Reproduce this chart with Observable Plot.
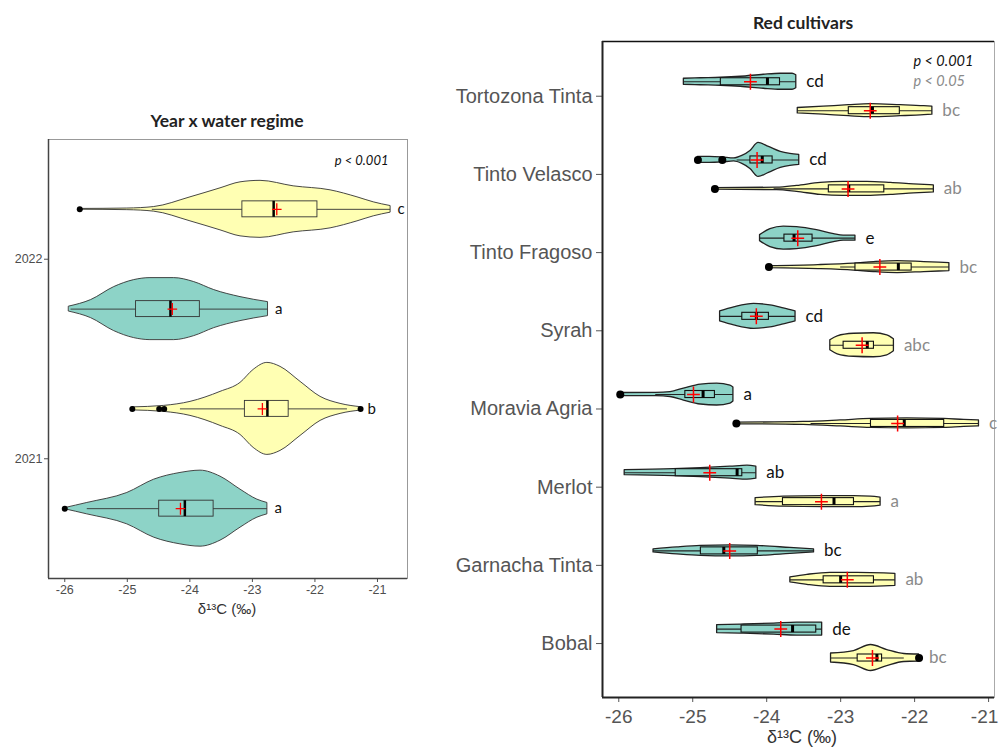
<!DOCTYPE html>
<html><head><meta charset="utf-8">
<script src="https://cdn.jsdelivr.net/npm/d3@7"></script>
<script src="https://cdn.jsdelivr.net/npm/@observablehq/plot@0.6"></script>
<style>
body{margin:0;background:#fff;width:1000px;height:752px;overflow:hidden;position:relative;font-family:"Liberation Sans",Arial,sans-serif}
#left{position:absolute;left:0;top:0}
#right{position:absolute;left:430px;top:0}
.title{position:absolute;font-family:Lato,"Open Sans",sans-serif;font-weight:700;font-size:17.5px;color:#222;transform:translate(-50%,-50%);white-space:nowrap}
.axt{position:absolute;font-family:"Liberation Sans",Arial,sans-serif;color:#333;transform:translate(-50%,-50%);white-space:nowrap}
</style></head><body>
<div id="left"></div><div id="right"></div>
<div class="title" style="left:227px;top:120px">Year x water regime</div>
<div class="title" style="left:803px;top:22px">Red cultivars</div>
<div class="axt" style="left:227px;top:608px;font-size:15px">δ¹³C (‰)</div>
<div class="axt" style="left:802px;top:737px;font-size:18px">δ¹³C (‰)</div>
<script>
// ---------------- LEFT PANEL DATA (Year x water regime) ----------------
const yearOrder = ["2022", "2021"];
const leftYears = ["2022", "2022", "2021", "2021"];
const leftRegime = ["A", "B", "A", "B"];
const leftProfileX = [
  [-25.76, -25.0, -24.57, -23.99, -23.51, -23.19, -22.87, -22.34, -21.75, -21.32, -21.06, -20.79],
  [-25.93, -25.58, -25.21, -24.89, -24.63, -24.25, -23.93, -23.61, -23.19, -22.75],
  [-24.92, -24.41, -23.99, -23.51, -23.19, -22.98, -22.76, -22.55, -22.23, -21.91, -21.59, -21.27],
  [-26.0, -25.64, -25.0, -24.57, -24.15, -23.83, -23.51, -23.19, -22.92, -22.76]
];
const leftProfileW = [
  [0.4, 0.8, 2.3, 12, 21, 27, 28.5, 23, 19, 12, 7, 3.3],
  [2.5, 9, 22, 29, 31, 31, 27, 19, 12, 7],
  [1.5, 3, 7, 17, 26, 39, 46, 42, 27, 12, 5, 1.7],
  [0.5, 5.7, 15.7, 29, 35.7, 38, 32, 19, 9, 5.7]
];
const leftQ1 = [-23.16, -24.86, -23.12, -24.49];
const leftMedian = [-22.66, -24.31, -22.76, -24.08];
const leftQ3 = [-21.96, -23.84, -22.42, -23.62];
const leftWhiskerLow = [-24.6, -25.9, -24.15, -25.64];
const leftWhiskerHigh = [-20.79, -22.75, -21.48, -22.76];
const leftMean = [-22.61, -24.28, -22.84, -24.15];
const leftOutliers = [[-25.76], [], [-24.92, -24.49, -24.41, -21.27], [-26.0]];
const leftLetters = ["c", "a", "b", "a"];
const leftXTicks = [-26, -25, -24, -23, -22, -21];

// ---------------- RIGHT PANEL DATA (Red cultivars) ----------------
const cultivars = ["Tortozona Tinta", "Tinto Velasco", "Tinto Fragoso", "Syrah", "Moravia Agria", "Merlot", "Garnacha Tinta", "Bobal"];
const rightCultivar = cultivars.flatMap(c => [c, c]);
const rightRegime = cultivars.flatMap(() => ["B", "A"]);
const rightProfileX = [
  [-25.12, -24.89, -24.62, -24.35, -24.04, -23.81, -23.65, -23.60],
  [-23.58, -23.23, -22.89, -22.59, -22.19, -21.87, -21.76],
  [-24.93, -24.77, -24.60, -24.44, -24.33, -24.22, -24.11, -23.97, -23.81, -23.68, -23.56],
  [-24.70, -23.86, -23.59, -23.27, -22.96, -22.64, -22.32, -22.01, -21.74],
  [-24.09, -23.95, -23.77, -23.59, -23.32, -23.09, -22.96, -22.80],
  [-23.97, -23.30, -22.82, -22.55, -22.23, -21.87, -21.53],
  [-24.63, -24.44, -24.17, -23.95, -23.77, -23.61],
  [-23.14, -23.04, -22.82, -22.55, -22.37, -22.28],
  [-25.98, -25.50, -25.30, -25.12, -24.89, -24.67, -24.49, -24.45],
  [-24.41, -23.50, -23.00, -22.59, -22.10, -21.60, -21.33, -21.13],
  [-25.92, -25.26, -24.89, -24.49, -24.26, -24.14],
  [-24.15, -23.77, -23.23, -22.82, -22.59, -22.46],
  [-25.53, -25.21, -24.89, -24.49, -24.13, -23.68, -23.36],
  [-23.68, -23.45, -23.14, -22.77, -22.41, -22.26],
  [-24.67, -24.35, -23.90, -23.59, -23.25],
  [-23.13, -22.82, -22.59, -22.37, -22.14, -21.94]
];
const rightProfileW = [
  [3, 3.5, 4, 5, 7, 8, 8, 6.5],
  [2.7, 4, 5.5, 6.5, 5.5, 4.5, 4],
  [3, 3, 2.5, 1.5, 4, 9, 17, 13, 8, 6, 5],
  [0.8, 1.2, 3, 6, 7, 7, 6, 4.5, 3.5],
  [3, 9, 11.5, 11, 8, 4, 2.5, 2.5],
  [1, 2, 3.5, 5, 6, 5, 4],
  [5, 9, 12.5, 11, 8, 5],
  [5, 9, 11.5, 12, 10, 6],
  [1.5, 1.7, 2.5, 6, 10, 11, 9, 7],
  [0.8, 1.5, 3, 4.5, 5, 4.5, 3.5, 3],
  [2.5, 3.5, 4.5, 6, 7, 6],
  [3.5, 5, 5.5, 5.5, 5, 4],
  [1.5, 3.5, 5, 5.5, 5, 3, 1.5],
  [2.5, 5, 7, 7, 6.5, 6],
  [4, 4.5, 5.5, 6.5, 6.5],
  [4.5, 7, 13, 8, 4, 3.5]
];
const rightQ1 = [-24.62, -22.89, -24.22, -23.16, -23.76, -22.80, -24.33, -22.96, -25.10, -22.59, -25.23, -23.78, -24.89, -23.23, -24.34, -22.77];
const rightMedian = [-23.99, -22.57, -24.06, -22.89, -23.63, -22.22, -24.14, -22.64, -24.86, -22.14, -24.40, -23.09, -24.58, -23.00, -23.65, -22.51];
const rightQ3 = [-23.82, -22.20, -23.92, -22.41, -23.38, -22.04, -23.97, -22.55, -24.70, -21.60, -24.33, -22.82, -24.12, -22.55, -23.33, -22.44];
const rightWhiskerLow = [-25.12, -23.58, -24.40, -23.90, -24.09, -23.00, -24.63, -23.14, -25.50, -23.40, -25.92, -24.15, -25.53, -23.68, -24.67, -23.13];
const rightWhiskerHigh = [-23.60, -21.76, -23.56, -21.74, -22.80, -21.53, -23.61, -22.28, -24.45, -21.13, -24.14, -22.46, -23.36, -22.26, -23.25, -22.14];
const rightMean = [-24.22, -22.60, -24.13, -22.90, -23.58, -22.47, -24.14, -22.71, -24.99, -22.23, -24.77, -23.26, -24.50, -22.91, -23.81, -22.57];
const rightOutliers = [[], [], [-24.93, -24.60], [-24.70], [], [-23.97], [], [], [-25.98], [-24.41], [], [], [], [], [], [-21.94]];
const rightLetters = ["cd", "bc", "cd", "ab", "e", "bc", "cd", "abc", "a", "c", "ab", "a", "bc", "ab", "de", "bc"];
const rightXTicks = [-26, -25, -24, -23, -22, -21];

// ---------------- helpers ----------------
const regimeFill = {A: "#FFFFB3", B: "#8DD3C7"};
const plusSymbol = {
  draw(ctx, size) {
    const r = Math.sqrt(size / Math.PI);
    ctx.moveTo(-r * 0.8, 0); ctx.lineTo(r * 0.8, 0);
    ctx.moveTo(0, -r); ctx.lineTo(0, r);
  }
};

function build(order, cats, regs, offsets, profX, profW, dens, q1, med, q3, wl, wh, mean, outs, letters, boxHalf) {
  const n = order.length;
  const violins = [], boxes = [], outRows = [];
  cats.forEach((cat, i) => {
    const c = (n - order.indexOf(cat)) + offsets[regs[i]];
    const fill = regimeFill[regs[i]];
    profX[i].forEach((x, j) => violins.push({id: i, x, y1: c - profW[i][j] * dens, y2: c + profW[i][j] * dens, fill}));
    boxes.push({c, fill, q1: q1[i], q3: q3[i], med: med[i], mean: mean[i], wl: wl[i], wh: wh[i],
      b1: c - boxHalf, b2: c + boxHalf, xmax: d3.max(profX[i]), letter: letters[i], regime: regs[i]});
    outs[i].forEach(x => outRows.push({x, y: c}));
  });
  return {violins, boxes, outRows};
}

// ---------------- LEFT PLOT ----------------
const L = build(yearOrder, leftYears, leftRegime, {A: 0.25, B: -0.25}, leftProfileX, leftProfileW, 1 / 199.5,
  leftQ1, leftMedian, leftQ3, leftWhiskerLow, leftWhiskerHigh, leftMean, leftOutliers, leftLetters, 0.04);
const leftXDomain = [-26.26, -20.52];
const leftYDomain = [0.4, 2.6];

const leftPlot = Plot.plot({
  width: 430, height: 640,
  marginLeft: 48, marginRight: 23, marginTop: 139, marginBottom: 62,
  style: {fontFamily: "'Liberation Sans', Arial, sans-serif", fontSize: "12.5px", color: "#4d4d4d", background: "transparent"},
  color: {type: "identity"},
  x: {domain: leftXDomain, ticks: leftXTicks, tickFormat: d => String(d), tickSize: 4, tickPadding: 3, label: null},
  y: {domain: leftYDomain, ticks: yearOrder.map((_, i) => yearOrder.length - i), tickFormat: d => yearOrder[yearOrder.length - d], tickSize: 4, tickPadding: 2, label: null},
  marks: [
    Plot.frame({stroke: "#999", strokeWidth: 1}),
    Plot.ruleX([leftXDomain[0]], {stroke: "#444", strokeWidth: 1.5}),
    Plot.ruleY([leftYDomain[0]], {stroke: "#444", strokeWidth: 1.5}),
    Plot.areaY(L.violins, {x: "x", y1: "y1", y2: "y2", z: "id", fill: "fill", stroke: "#333", strokeWidth: 0.9, curve: "monotone-x"}),
    Plot.ruleY(L.boxes, {y: "c", x1: "wl", x2: "wh", stroke: "#333", strokeWidth: 0.9}),
    Plot.rect(L.boxes, {x1: "q1", x2: "q3", y1: "b1", y2: "b2", fill: "fill", stroke: "#333", strokeWidth: 0.9}),
    Plot.ruleX(L.boxes, {x: "med", y1: "b1", y2: "b2", stroke: "#000", strokeWidth: 2.5}),
    Plot.dot(L.boxes, {x: "mean", y: "c", symbol: plusSymbol, r: 6, stroke: "red", strokeWidth: 1.3, fill: "none"}),
    Plot.dot(L.outRows, {x: "x", y: "y", r: 3, fill: "#000", stroke: "none"}),
    Plot.text(L.boxes, {x: "xmax", y: "c", text: "letter", dx: 7, textAnchor: "start", fontSize: 15, fontFamily: "Lato, sans-serif", fill: "#111"}),
    Plot.text(["p < 0.001"], {frameAnchor: "top-right", dx: -19, dy: 21, textAnchor: "end", lineAnchor: "middle", fontStyle: "italic", fontSize: 13, fontFamily: "Lato, sans-serif", fill: "#111"})
  ]
});
document.getElementById("left").append(leftPlot);

// ---------------- RIGHT PLOT ----------------
const R = build(cultivars, rightCultivar, rightRegime, {B: 0.185, A: -0.185}, rightProfileX, rightProfileW, 1 / 78.23,
  rightQ1, rightMedian, rightQ3, rightWhiskerLow, rightWhiskerHigh, rightMean, rightOutliers, rightLetters, 0.045);
const rightXDomain = [-26.22, -20.92];
const rightYDomain = [0.31, 8.70];
const xTickText = {frameAnchor: "bottom", dy: 19, lineAnchor: "middle", fontSize: 19, fill: "#555",
  fontFamily: "'Liberation Sans', Arial, sans-serif", text: d => String(d)};

const rightPlot = Plot.plot({
  width: 570, height: 752,
  marginLeft: 172, marginRight: 6, marginTop: 41, marginBottom: 55,
  style: {fontFamily: "'Liberation Sans', Arial, sans-serif", fontSize: "20px", color: "#555", background: "transparent"},
  color: {type: "identity"},
  x: {domain: rightXDomain, ticks: rightXTicks, tickFormat: () => "", tickSize: 5, tickPadding: 4, label: null},
  y: {domain: rightYDomain, ticks: cultivars.map((_, i) => cultivars.length - i), tickFormat: d => cultivars[cultivars.length - d], tickSize: 6, tickPadding: 4, label: null},
  marks: [
    Plot.frame({stroke: "#aaa", strokeWidth: 1}),
    Plot.ruleY([rightYDomain[1]], {stroke: "#111", strokeWidth: 1.3}),
    Plot.ruleX([rightXDomain[0]], {stroke: "#222", strokeWidth: 2}),
    Plot.ruleY([rightYDomain[0]], {stroke: "#222", strokeWidth: 2}),
    Plot.text(rightXTicks.slice(0, -1), {x: d => d, ...xTickText}),
    Plot.text(rightXTicks.slice(-1), {x: d => d, dx: -4, ...xTickText}),
    Plot.areaY(R.violins, {x: "x", y1: "y1", y2: "y2", z: "id", fill: "fill", stroke: "#222", strokeWidth: 1.3, curve: "monotone-x"}),
    Plot.ruleY(R.boxes, {y: "c", x1: "wl", x2: "wh", stroke: "#222", strokeWidth: 1.1}),
    Plot.rect(R.boxes, {x1: "q1", x2: "q3", y1: "b1", y2: "b2", fill: "fill", stroke: "#111", strokeWidth: 1.1}),
    Plot.ruleX(R.boxes, {x: "med", y1: "b1", y2: "b2", stroke: "#000", strokeWidth: 3}),
    Plot.dot(R.boxes, {x: "mean", y: "c", symbol: plusSymbol, r: 8, stroke: "red", strokeWidth: 1.5, fill: "none"}),
    Plot.dot(R.outRows, {x: "x", y: "y", r: 4, fill: "#000", stroke: "none"}),
    Plot.text(R.boxes, {x: "xmax", y: "c", text: "letter", dx: 10, textAnchor: "start", fontSize: 17, fontFamily: "Lato, sans-serif",
      fill: d => d.regime === "B" ? "#111" : "#8a8a8a"}),
    Plot.text(["p < 0.001"], {frameAnchor: "top-right", dx: -81, dy: 20, textAnchor: "start", lineAnchor: "middle", fontStyle: "italic", fontSize: 14.5, fontFamily: "Lato, sans-serif", fill: "#111"}),
    Plot.text(["p < 0.05"], {frameAnchor: "top-right", dx: -81, dy: 40, textAnchor: "start", lineAnchor: "middle", fontStyle: "italic", fontSize: 14.5, fontFamily: "Lato, sans-serif", fill: "#8a8a8a"})
  ]
});
document.getElementById("right").append(rightPlot);
</script></body></html>
